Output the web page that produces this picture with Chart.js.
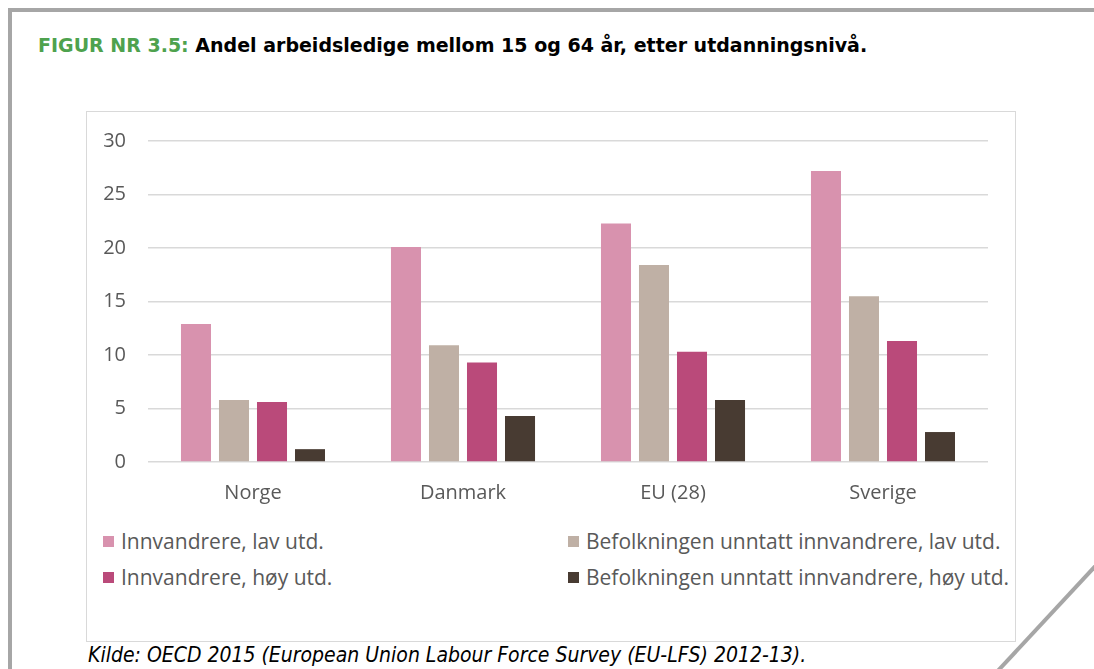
<!DOCTYPE html>
<html>
<head>
<meta charset="utf-8">
<script src="https://cdn.jsdelivr.net/npm/chart.js@4.4.0/dist/chart.umd.min.js"></script>
<style>
  html, body { margin: 0; padding: 0; background: #fff; }
  #page { position: relative; width: 1094px; height: 669px; overflow: hidden; background: #fff; }
  .frame-top { position: absolute; left: 8px; top: 8px; width: 1100px; height: 4px; background: #a6a6a6; }
  .frame-left { position: absolute; left: 8px; top: 8px; width: 4px; height: 680px; background: #a6a6a6; }
  #curl { position: absolute; left: 0; top: 0; }
  #title { position: absolute; left: 38px; top: 34px; margin: 0; font: bold 19px Tahoma, "DejaVu Sans", sans-serif; color: #000; white-space: nowrap; }
  #title .fig { color: #4ea24e; }
  #box { position: absolute; left: 86px; top: 111px; width: 930px; height: 531px; box-sizing: border-box; border: 1.5px solid #d9d9d9; }
  #chartWrap { position: absolute; left: 86px; top: 107px; width: 930px; height: 413px; }
  #legend { position: absolute; left: 103px; top: 523px; display: grid; grid-template-columns: 465px auto; grid-auto-rows: 36px;
            font: 21px "Open Sans", Lato, sans-serif; color: #595959; }
  #legend .item { display: flex; align-items: center; white-space: nowrap; }
  #legend .sw { width: 11px; height: 11px; margin-right: 7px; }
  #source { position: absolute; left: 88px; top: 643px; margin: 0; font: italic 21px "DejaVu Sans Condensed", "DejaVu Sans", sans-serif; font-stretch: condensed; color: #000; white-space: nowrap; }
</style>
</head>
<body>
<div id="page">
  <div class="frame-top"></div>
  <div class="frame-left"></div>
  <svg id="curl" width="1094" height="669"><line x1="1100" y1="561" x2="994" y2="675" stroke="#a6a6a6" stroke-width="4"/></svg>
  <h1 id="title"><span class="fig">FIGUR NR 3.5:</span> Andel arbeidsledige mellom 15 og 64 år, etter utdanningsnivå.</h1>
  <div id="box"></div>
  <div id="chartWrap"><canvas id="chart" width="930" height="413"></canvas></div>
  <div id="legend"></div>
  <p id="source">Kilde: OECD 2015 (European Union Labour Force Survey (EU-LFS) 2012-13).</p>
</div>
<script>
// Data
const categories = ["Norge", "Danmark", "EU (28)", "Sverige"];
const seriesNames = [
    "Innvandrere, lav utd.",
    "Befolkningen unntatt innvandrere, lav utd.",
    "Innvandrere, høy utd.",
    "Befolkningen unntatt innvandrere, høy utd."
];
const innvLav = [12.9, 20.1, 22.3, 27.2];
const befLav = [5.8, 10.9, 18.4, 15.5];
const innvHoy = [5.6, 9.3, 10.3, 11.3];
const befHoy = [1.2, 4.3, 5.8, 2.8];
const yMin = 0, yMax = 30, yStep = 5;

const colors = ["#d892ae", "#bfb0a5", "#ba4a7a", "#483b32"];
const seriesValues = [innvLav, befLav, innvHoy, befHoy];

const tickFont = { family: "'Open Sans', Lato, sans-serif", size: 20 };

const datasets = seriesNames.map((name, i) => ({
    label: name,
    data: seriesValues[i],
    backgroundColor: colors[i],
    borderWidth: 0,
    barPercentage: 0.79,
    categoryPercentage: 0.724
}));

const ctx = document.getElementById("chart").getContext("2d");
new Chart(ctx, {
    type: "bar",
    data: { labels: categories, datasets },
    options: {
        responsive: false,
        devicePixelRatio: 1,
        animation: false,
        layout: { padding: { left: 0, right: 28, top: 0, bottom: 0 } },
        plugins: { legend: { display: false }, tooltip: { enabled: false } },
        scales: {
            x: {
                grid: { display: false },
                border: { display: false },
                ticks: { color: "#595959", font: tickFont, padding: 11 },
                afterFit: s => { s.height = 58; }
            },
            y: {
                min: yMin, max: yMax,
                grid: { color: "#d9d9d9", lineWidth: 1.5, drawTicks: false },
                border: { display: false },
                ticks: { stepSize: yStep, color: "#595959", font: tickFont, padding: 22 },
                afterFit: s => { s.width = 62; }
            }
        }
    }
});

// Legend (two columns, like the original)
const legendEl = document.getElementById("legend");
datasets.forEach(ds => {
    const item = document.createElement("div");
    item.className = "item";
    const sw = document.createElement("span");
    sw.className = "sw";
    sw.style.background = ds.backgroundColor;
    item.appendChild(sw);
    item.appendChild(document.createTextNode(ds.label));
    legendEl.appendChild(item);
});
</script>
</body>
</html>
